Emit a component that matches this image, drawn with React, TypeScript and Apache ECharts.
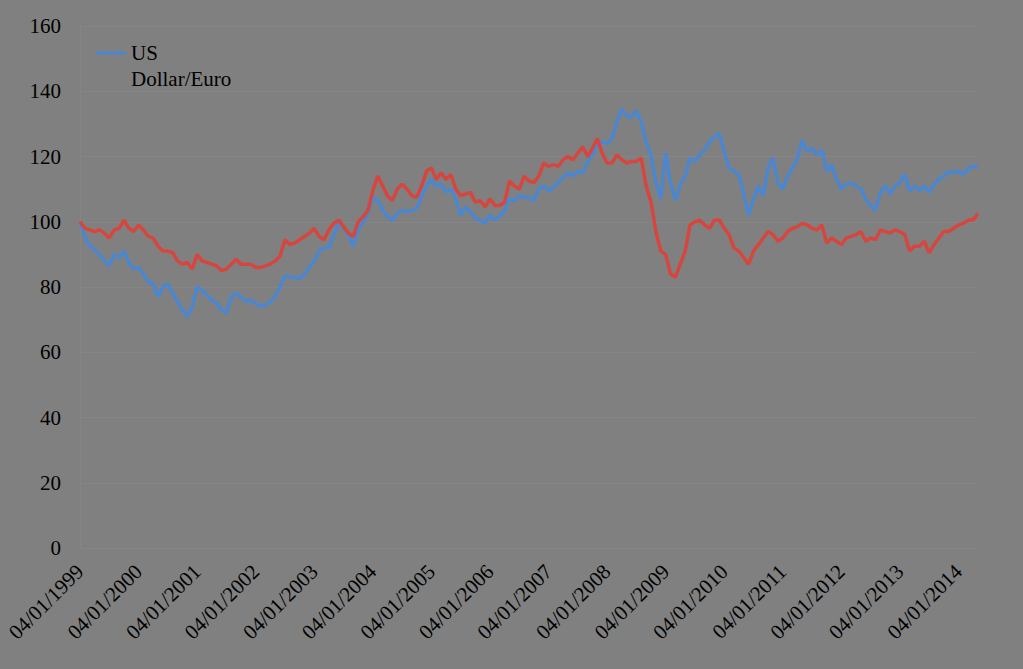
import React, { useEffect, useRef } from "react";
import * as echarts from "echarts";

// Monthly sample points, Jan 1999 .. May 2014
const startYear = 1999;
const monthCount = 185;
const categories: string[] = [];
for (let i = 0; i < monthCount; i++) {
  const y = startYear + Math.floor(i / 12);
  const m = (i % 12) + 1;
  categories.push(`04/${m < 10 ? "0" + m : m}/${y}`);
}

const usdEuro: number[] = [
  // 1999
  100, 95.5, 92.5, 91.5, 90, 88, 86.5, 90, 89, 91, 87.5, 85.5,
  // 2000
  86, 84, 81.5, 81, 77, 80, 81, 78, 75.5, 73, 71, 74,
  // 2001
  80, 79, 77.5, 76, 75, 73, 72, 77, 78, 77, 75.5, 76,
  // 2002
  75, 74, 74.5, 75.5, 77, 80, 83.5, 83, 83, 82.5, 84, 86,
  // 2003
  88, 91, 92, 92, 96, 100, 98, 96, 92.5, 97.5, 100, 102.5,
  // 2004
  107.5, 106.5, 103.5, 101.5, 100.5, 102.5, 103.5, 103, 103.5, 104, 108, 111,
  // 2005
  113, 111, 111.5, 109, 110, 107, 102, 104.5, 103, 101, 100.5, 99.5,
  // 2006
  102, 100.5, 101.5, 103.5, 107, 106.5, 108, 107.5, 107.5, 106.5, 110, 111,
  // 2007
  109.5, 110.5, 112, 113.5, 115, 114, 115.5, 115, 118.5, 120.5, 123.5, 124.5,
  // 2008
  124, 125.5, 130.5, 134.5, 132.5, 132, 134, 130.5, 124.5, 120.5, 112, 107,
  // 2009
  121, 112, 106.5, 111.5, 114, 119.5, 118.5, 120.5, 122, 124.5, 126, 127,
  // 2010
  121.5, 116.5, 115.5, 114.5, 108.5, 102, 107, 111, 108, 116.5, 119.5, 112,
  // 2011
  110, 114, 116.5, 119.5, 125, 121.5, 122.5, 120.5, 122, 115.5, 117.5, 113,
  // 2012
  110, 111.5, 112, 111, 110, 107, 105, 103.5, 109, 111, 108.5, 111,
  // 2013
  112, 114.5, 109.5, 111, 109.5, 111, 109, 111.5, 113, 114, 115.5, 115,
  // 2014
  115.5, 114.5, 116.5, 117, 117,
];

const secondIndex: number[] = [
  // 1999
  100, 98, 97.5, 97, 97.5, 96.5, 95, 97.5, 98, 100.5, 98, 97,
  // 2000
  99, 97.5, 95.5, 95, 92.5, 91, 91, 90.5, 88, 87, 87.5, 85.5,
  // 2001
  90, 88, 87.5, 87, 86.5, 85, 85.5, 87, 88.5, 87, 87, 87,
  // 2002
  86, 86, 86.5, 87, 88, 89.5, 94.5, 93, 93.5, 94.5, 95.5, 96.5,
  // 2003
  98, 95.5, 94.5, 97.5, 99.5, 100.5, 98.5, 96.5, 95.5, 100, 101.5, 103.5,
  // 2004
  109.5, 114, 111, 108, 106.5, 110, 111.5, 110, 108, 107.5, 111, 115.5,
  // 2005
  116.5, 113, 115, 113, 114.5, 110, 108, 108.5, 109, 106, 106.5, 104.5,
  // 2006
  107, 105, 105, 106, 112.5, 111, 110, 114, 112.5, 112, 114, 118,
  // 2007
  117, 117.5, 117, 119, 120, 119, 121, 123, 120, 122.5, 125.5, 121,
  // 2008
  118, 118, 120.5, 119, 118, 118.5, 118.5, 119.5, 111, 106, 97, 91,
  // 2009
  90, 84, 83, 87, 91, 99, 100, 100.5, 99, 98, 100.5, 100.5,
  // 2010
  98, 96, 92, 91, 89, 87, 91, 93, 95, 97, 96, 94,
  // 2011
  95, 97, 98, 98.5, 99.5, 99, 98, 97.5, 99, 93.5, 95, 94,
  // 2012
  93, 95, 95.5, 96, 97, 94, 95, 94.5, 97.5, 97, 96.5, 97.5,
  // 2013
  97, 96, 91, 92.5, 92.5, 94, 90.5, 93, 95, 97, 97, 98,
  // 2014
  99, 99.5, 100.5, 100.5, 102.5,
];

const FONT = '"Liberation Serif", "Times New Roman", serif';
const BG = "#808080";
const GRID = "#858585";
const BLUE = "#4a87d0";
const RED = "#d6463f";

export default function App() {
  const ref = useRef<HTMLDivElement>(null);
  useEffect(() => {
    document.body.style.margin = "0";
    document.body.style.background = BG;
    const chart = echarts.init(ref.current!, undefined, { renderer: "svg" });
    chart.setOption({
      animation: false,
      backgroundColor: BG,
      textStyle: { fontFamily: FONT, color: "#000" },
      grid: { left: 80, right: 45, top: 26, bottom: 121, containLabel: false },
      legend: {
        data: ["US Dollar/Euro"],
        left: 96,
        top: 14,
        padding: 0,
        icon: "rect",
        itemWidth: 30,
        itemHeight: 3,
        formatter: () => " \nUS\nDollar/Euro",
        textStyle: {
          fontFamily: FONT,
          fontSize: 21,
          color: "#000",
          lineHeight: 26,
        },
      },
      xAxis: {
        type: "category",
        data: categories,
        boundaryGap: false,
        axisLine: { show: true, lineStyle: { color: GRID, width: 1 } },
        axisTick: { show: false },
        splitLine: { show: false },
        axisLabel: {
          interval: 11,
          rotate: 45,
          margin: 20,
          fontFamily: FONT,
          fontSize: 21,
          color: "#000",
        },
      },
      yAxis: {
        type: "value",
        min: 0,
        max: 160,
        interval: 20,
        axisLine: { show: true, lineStyle: { color: GRID, width: 1 } },
        axisTick: { show: false },
        splitLine: { show: true, lineStyle: { color: GRID, width: 1 } },
        axisLabel: {
          margin: 19,
          fontFamily: FONT,
          fontSize: 21,
          color: "#000",
        },
      },
      series: [
        {
          name: "US Dollar/Euro",
          type: "line",
          data: usdEuro,
          symbol: "none",
          lineStyle: { color: BLUE, width: 3.5 },
          itemStyle: { color: BLUE },
        },
        {
          name: "Series 2",
          type: "line",
          data: secondIndex,
          symbol: "none",
          lineStyle: { color: RED, width: 3.5 },
          itemStyle: { color: RED },
        },
      ],
    });
    return () => chart.dispose();
  }, []);
  return (
    <div
      ref={ref}
      style={{ position: "fixed", left: 0, top: 0, width: 1023, height: 669, background: BG }}
    />
  );
}
